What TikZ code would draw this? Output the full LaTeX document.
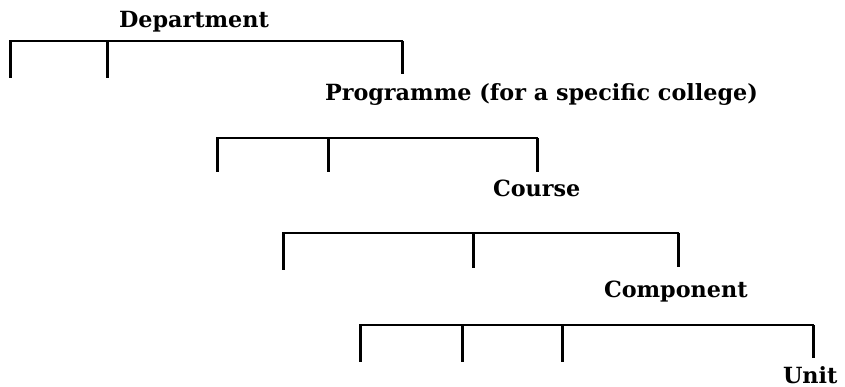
\documentclass[tikz,border=0pt]{standalone}
\usepackage{fontspec}
\setmainfont{DejaVu Serif}
\begin{document}
\begin{tikzpicture}[x=1pt,y=-1pt,
  label/.style={anchor=base west,inner sep=0pt,outer sep=0pt,
    font=\bfseries\fontsize{22.3pt}{26pt}\selectfont},
  bar/.style={line width=2.4pt,line cap=rect},
  tick/.style={line width=3pt}]
\useasboundingbox (0,0) rectangle (845,387);

% level labels
\node[label] (dept) at (119,28) {Department};
\node[label] (prog) at (325,101) {Programme (for a specific college)};
\node[label] (course) at (493,197) {Course};
\node[label] (comp) at (604,297) {Component};
\node[label] (unit) at (783,383) {Unit};

% bracket under Department
\coordinate (d1) at (10,41);  \coordinate (d2) at (107,41); \coordinate (d3) at (402,41);
\draw[bar] (d1) -- (d3);
\draw[tick] (d1) -- ++(0,37);
\draw[tick] (d2) -- ++(0,37);
\draw[tick] (d3) -- ++(0,33);

% bracket under Programme
\coordinate (p1) at (217,138); \coordinate (p2) at (328,138); \coordinate (p3) at (537,138);
\draw[bar] (p1) -- (p3);
\draw[tick] (p1) -- ++(0,34);
\draw[tick] (p2) -- ++(0,34);
\draw[tick] (p3) -- ++(0,34);

% bracket under Course
\coordinate (c1) at (283,233); \coordinate (c2) at (473,233); \coordinate (c3) at (678,233);
\draw[bar] (c1) -- (c3);
\draw[tick] (c1) -- ++(0,37);
\draw[tick] (c2) -- ++(0,35);
\draw[tick] (c3) -- ++(0,34);

% bracket under Component
\coordinate (k1) at (360,325); \coordinate (k2) at (462,325);
\coordinate (k3) at (562,325); \coordinate (k4) at (813,325);
\draw[bar] (k1) -- (k4);
\draw[tick] (k1) -- ++(0,37);
\draw[tick] (k2) -- ++(0,37);
\draw[tick] (k3) -- ++(0,37);
\draw[tick] (k4) -- ++(0,33);
\end{tikzpicture}
\end{document}
